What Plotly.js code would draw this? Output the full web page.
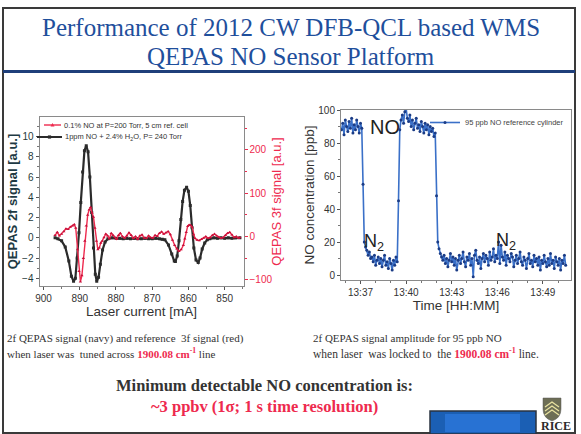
<!DOCTYPE html>
<html>
<head>
<meta charset="utf-8">
<script src="https://cdn.plot.ly/plotly-3.0.1.min.js"></script>
<style>
  html, body { margin: 0; padding: 0; background: #fff; }
  #chart { width: 581px; height: 434px; }
</style>
</head>
<body>
<div id="chart"></div>
<script>
// 2f QEPAS scan, 1 ppm NO + 2.4% H2O at 240 Torr (left axis)
const laserCurrent2f = [896.8, 896.0, 895.0, 894.0, 893.0, 892.3, 891.7, 891.2, 890.7, 890.2,
  889.7, 889.2, 888.7, 888.2, 887.7, 887.2, 886.7, 886.2, 885.7, 885.3,
  884.8, 884.3, 883.7, 883.0, 882.2, 881.0, 880.0, 879.0, 878.0, 877.0,
  876.0, 875.0, 874.0, 873.0, 872.0, 871.0, 870.0, 869.0, 868.0, 867.2,
  866.5, 865.5, 864.6, 863.9, 863.6, 863.1, 862.6, 862.1, 861.6, 861.1,
  860.5, 860.0, 859.5, 859.0, 858.5, 857.9, 857.3, 856.8, 856.2, 855.5,
  854.8, 854.1, 853.0, 852.0, 851.0, 850.0, 849.0, 848.0, 847.0, 845.8];
const qepas2f = [0.0, -0.1, -0.3, -0.9, -2.3, -3.8, -4.3, -4.0, -2.0, 0.5,
  3.5, 6.5, 8.6, 9.1, 8.5, 6.0, 2.5, -1.0, -3.6, -4.3,
  -3.9, -2.6, -1.2, -0.4, -0.1, 0.0, -0.05, -0.05, -0.1, -0.05,
  -0.1, -0.05, -0.1, -0.1, -0.05, -0.1, -0.1, -0.05, -0.1, -0.15,
  -0.2, -0.7, -1.6, -2.3, -2.35, -1.8, -0.3, 1.8, 3.6, 4.7,
  5.0, 4.6, 3.2, 1.0, -1.0, -2.2, -2.45, -2.0, -1.1, -0.5,
  -0.2, -0.1, 0.0, -0.05, 0.0, -0.05, 0.0, -0.05, 0.0, 0.0];

// 3f reference signal, 0.1% NO at 200 Torr in a 5 cm cell (right axis)
const laserCurrent3f = [896.8, 896.2, 895.6, 895.0, 894.4, 893.8, 893.2, 892.6, 892.0, 891.5,
  891.1, 890.6, 890.2, 889.8, 889.4, 889.0, 888.6, 888.2, 887.8, 887.4,
  887.0, 886.6, 886.2, 885.8, 885.4, 885.0, 884.6, 884.2, 883.8, 883.3,
  882.8, 882.3, 881.8, 881.3, 880.8, 880.3, 879.8, 879.3, 878.8, 878.2,
  877.6, 877.0, 876.4, 875.8, 875.2, 874.6, 874.0, 873.4, 872.8, 872.2,
  871.6, 871.0, 870.4, 869.8, 869.2, 868.6, 868.0, 867.4, 866.8, 866.2,
  865.6, 865.0, 864.4, 863.8, 863.2, 862.6, 862.0, 861.4, 861.0, 860.6,
  860.2, 859.8, 859.4, 859.0, 858.6, 858.2, 857.6, 857.0, 856.4, 855.8,
  855.2, 854.6, 854.0, 853.4, 852.8, 852.2, 851.6, 851.0, 850.4, 849.8,
  849.2, 848.6, 848.0, 847.4, 846.8, 846.2, 845.8];
const ref3f = [3, 10, 2, 6, 12, 18, 17, 22, 25, 28,
  20, -30, -80, -104, -90, -50, -10, 25, 50, 62,
  68, 55, 45, 20, -10, -30, -26, -15, -10, -2,
  6, 2, -5, 8, 3, -2, -6, 3, 8, 0,
  -3, 2, 9, 3, -4, 0, -6, 2, 4, -3,
  -4, 2, -2, -3, 3, 1, 8, 11, 6, 9,
  12, 5, -8, -20, -28, -34, -30, -20, -5, 10,
  24, 27, 26, 22, 5, -4, -8, -9, -6, -3,
  0, -4, -2, 3, 6, 2, -1, -4, -2, 3,
  8, 10, 4, -2, 0, -3, -2];
const xTicksCurrent = [900, 890, 880, 870, 860, 850];
const yTicks3f = [-100, 0, 100, 200];

// NO concentration with the laser locked to the line, one reading every 5 s
const recordStart = '2012-01-01T13:35:45Z';
const recordStepSec = 5;
const noConcPpb = [
  88, 92, 85, 94, 90, 87, 93, 89, 95, 86, 91, 88, 94, 90, 86, 92, 89,
  55,
  20, 17, 15, 12, 14, 10, 11, 8, 12, 6, 9, 11, 7, 10, 5, 9, 12, 6, 8, 4, 10, 7, 3, 9, 6, 11, 8,
  45, 88,
  94, 97, 92, 99, 101, 95, 93, 97, 90, 94, 88, 92, 95, 89, 91, 87, 93, 90, 86, 92, 88, 91, 85, 90, 87, 89, 84, 86,
  48,
  20, 16, 13, 11, 9, 12, 7, 10, 5, 9,
  13, 8, 11, 6, 10, 3, 9, 12, 7, 10,
  14, 8, 5, 11, 9, 13, 6, 10, -1, 12,
  15, 9, 7, 11, 4, 10, 13, 8, 12, 10,
  6, 14, 9, 11, 16, 8, 12, 10, 20, 7,
  18, 11, 9, 14, 6, 12, 10, 8, 13, 11,
  5, 9, 12, 7, 10, 14, 8, 6, 11, 9,
  4, 10, 13, 7, 9, 5, 12, 8, 10, 6,
  11, 3, 9, 7, 12, 8, 5, 10, 6, 13,
  7, 9, 4, 11, 8, 6, 10, 3, 9, 7,
  12, 6];

// reading timestamps on the instrument's fixed sampling grid
const t0 = Date.parse(recordStart);
const readingTimes = noConcPpb.map((_, i) =>
  new Date(t0 + i * recordStepSec * 1000).toISOString().replace('T', ' ').slice(0, 19));

// slide geometry helpers (pixels -> paper fraction)
const W = 581, H = 434;
const px = v => v / W;
const py = v => 1 - v / H;

const RED = '#ee2a4e';
const NAVY = '#1f4f9c';
const INK = '#2b2b2b';
const SANS = 'Liberation Sans, Arial, sans-serif';
const SERIF = 'Liberation Serif, Times New Roman, serif';

const traces = [
  {
    x: laserCurrent2f, y: qepas2f, xaxis: 'x', yaxis: 'y',
    type: 'scatter', mode: 'lines+markers', showlegend: false,
    name: '1ppm NO + 2.4% H2O, P= 240 Torr',
    line: { color: INK, width: 2.2 },
    marker: { color: INK, size: 3, symbol: 'square' }
  },
  {
    x: laserCurrent3f, y: ref3f, xaxis: 'x', yaxis: 'y2',
    type: 'scatter', mode: 'lines+markers', showlegend: false,
    name: '0.1% NO at P=200 Torr, 5 cm ref. cell',
    line: { color: RED, width: 1.4 },
    marker: { color: '#c8103a', size: 3, symbol: 'triangle-up' }
  },
  {
    x: readingTimes, y: noConcPpb, xaxis: 'x2', yaxis: 'y3',
    type: 'scatter', mode: 'lines+markers',
    name: '95 ppb NO reference cylinder',
    line: { color: '#3a70c8', width: 1.6 },
    marker: { color: '#1b3c86', size: 3 },
    legend: 'legend2'
  }
];

const axisCommon = {
  showgrid: false, zeroline: false, showline: true, linecolor: '#8a8a8a', linewidth: 1,
  ticks: 'outside', ticklen: 3, tickcolor: '#555', tickfont: { family: SANS, size: 10, color: '#333' }
};

// compact two-entry key for the scan panel
const keyRows = [
  { y: 125, x0: 44, x1: 61, color: RED, mark: 'tri', text: '0.1% NO at P=200 Torr, 5 cm ref. cell' },
  { y: 137, x0: 37, x1: 62, color: INK, mark: 'sq', text: '1ppm NO + 2.4% H<sub>2</sub>O, P= 240 Torr' }
];
const keyShapes = [];
const keyNotes = [];
keyRows.forEach(r => {
  keyShapes.push({ type: 'line', xref: 'paper', yref: 'paper', x0: px(r.x0), x1: px(r.x1), y0: py(r.y), y1: py(r.y),
    line: { color: r.color, width: r.mark === 'sq' ? 2 : 1.4 } });
  const cx = (r.x0 + r.x1) / 2;
  const path = r.mark === 'tri'
    ? `M ${px(cx - 2)},${py(r.y + 1.5)} L ${px(cx + 2)},${py(r.y + 1.5)} L ${px(cx)},${py(r.y - 2)} Z`
    : `M ${px(cx - 1.6)},${py(r.y + 1.6)} L ${px(cx + 1.6)},${py(r.y + 1.6)} L ${px(cx + 1.6)},${py(r.y - 1.6)} L ${px(cx - 1.6)},${py(r.y - 1.6)} Z`;
  keyShapes.push({ type: 'path', xref: 'paper', yref: 'paper', path, fillcolor: r.color, line: { width: 0 } });
  keyNotes.push({ xref: 'paper', yref: 'paper', x: px(r.x1 + 1), y: py(r.y), xanchor: 'left', yanchor: 'middle',
    showarrow: false, text: r.text, font: { family: SANS, size: 7.5, color: '#333' } });
});

const layout = {
  width: W, height: H,
  margin: { l: 0, r: 0, t: 0, b: 0 },
  paper_bgcolor: '#fff', plot_bgcolor: '#fff',
  showlegend: true,
  xaxis: Object.assign({}, axisCommon, {
    domain: [px(39.5), px(243.5)], anchor: 'y',
    range: [901.1, 844.8], tickvals: xTicksCurrent, mirror: true,
    minor: { ticks: 'outside', ticklen: 2, dtick: 5, tickcolor: '#777' },
    title: { text: 'Laser current [mA]', font: { family: SANS, size: 13.5, color: '#333' }, standoff: 2 }
  }),
  yaxis: Object.assign({}, axisCommon, {
    domain: [py(286), py(117)], anchor: 'x',
    range: [-4.76, 11.94], tick0: 0, dtick: 2,
    tickfont: { family: SANS, size: 10, color: '#263a3a' },
    minor: { ticks: 'outside', ticklen: 2, dtick: 1, tickcolor: '#777' },
    title: { text: '<b>QEPAS 2f signal [a.u.]</b>', font: { family: SANS, size: 13, color: '#1e3a44' }, standoff: 1 }
  }),
  yaxis2: Object.assign({}, axisCommon, {
    overlaying: 'y', side: 'right', anchor: 'x',
    range: [-114, 276], tickvals: yTicks3f, tickcolor: RED,
    tickfont: { family: SANS, size: 10, color: RED },
    minor: { ticks: 'outside', ticklen: 2, dtick: 50, tickcolor: RED },
    title: { text: 'QEPAS 3f signal [a.u.]', font: { family: SANS, size: 13, color: RED }, standoff: 0 }
  }),
  xaxis2: Object.assign({}, axisCommon, {
    domain: [px(341), px(571)], anchor: 'y3', type: 'date',
    range: ['2012-01-01 13:35:43', '2012-01-01 13:50:51'],
    tick0: '2012-01-01 13:37:00', dtick: 180000, tickformat: '%H:%M', mirror: true,
    minor: { ticks: 'outside', ticklen: 2, dtick: 60000, tickcolor: '#777' },
    title: { text: 'Time [HH:MM]', font: { family: SANS, size: 13.5, color: '#333' }, standoff: 2 }
  }),
  yaxis3: Object.assign({}, axisCommon, {
    domain: [py(280), py(110)], anchor: 'x2',
    range: [-3, 100], tick0: 0, dtick: 20, mirror: true,
    minor: { ticks: 'outside', ticklen: 2, dtick: 10, tickcolor: '#777' },
    title: { text: 'NO concentration [ppb]', font: { family: SANS, size: 13.5, color: '#333' }, standoff: 0 }
  }),
  legend2: {
    x: px(425), y: py(108), xanchor: 'left', yanchor: 'top',
    bgcolor: 'rgba(0,0,0,0)', itemwidth: 30,
    font: { family: SANS, size: 7.5, color: '#444' }
  },
  shapes: [
    // slide frame
    { type: 'rect', xref: 'paper', yref: 'paper', x0: px(3), x1: px(575), y0: py(433), y1: py(8),
      line: { color: '#3a3a3a', width: 2 }, fillcolor: 'rgba(0,0,0,0)', layer: 'below' },
    // rule under the slide title
    { type: 'line', xref: 'paper', yref: 'paper', x0: px(3), x1: px(575), y0: py(71.5), y1: py(71.5),
      line: { color: '#1f3f7a', width: 3 } },
    // footer banner
    { type: 'rect', xref: 'paper', yref: 'paper', x0: px(430), x1: px(536), y0: py(434), y1: py(411),
      line: { color: '#2a3340', width: 1.5 }, fillcolor: '#1b5fb4' },
    { type: 'rect', xref: 'paper', yref: 'paper', x0: px(445), x1: px(520), y0: py(432), y1: py(414),
      line: { width: 0 }, fillcolor: '#2d7be0', opacity: 0.7 },
    // shield
    { type: 'path', xref: 'paper', yref: 'paper',
      path: `M ${px(543)},${py(398)} L ${px(561)},${py(398)} L ${px(561)},${py(409)} Q ${px(561)},${py(418)} ${px(552)},${py(421)} Q ${px(543)},${py(418)} ${px(543)},${py(409)} Z`,
      fillcolor: '#6d6e55', line: { color: '#555', width: 0.5 } },
    { type: 'path', xref: 'paper', yref: 'paper',
      path: `M ${px(545)},${py(407)} L ${px(552)},${py(402)} L ${px(559)},${py(407)} M ${px(545)},${py(411)} L ${px(552)},${py(406)} L ${px(559)},${py(411)} M ${px(545)},${py(415)} L ${px(552)},${py(410)} L ${px(559)},${py(415)}`,
      line: { color: '#e8e2a0', width: 1.3 } }
  ].concat(keyShapes),
  annotations: [
    { xref: 'paper', yref: 'paper', x: px(291), y: py(27), xanchor: 'center', yanchor: 'middle', showarrow: false,
      text: 'Performance of 2012 CW DFB-QCL based WMS', font: { family: SERIF, size: 25, color: NAVY } },
    { xref: 'paper', yref: 'paper', x: px(291), y: py(56), xanchor: 'center', yanchor: 'middle', showarrow: false,
      text: 'QEPAS NO Sensor Platform', font: { family: SERIF, size: 25, color: NAVY } },

    // labels on the concentration record
    { xref: 'x2', yref: 'y3', x: '2012-01-01 13:38:36', y: 89.5, showarrow: false,
      text: 'NO', font: { family: SANS, size: 20, color: '#222' } },
    { xref: 'x2', yref: 'y3', x: '2012-01-01 13:37:52', y: 19.5, showarrow: false,
      text: 'N<sub>2</sub>', font: { family: SANS, size: 18, color: '#222' } },
    { xref: 'x2', yref: 'y3', x: '2012-01-01 13:46:36', y: 20.5, showarrow: false,
      text: 'N<sub>2</sub>', font: { family: SANS, size: 18, color: '#222' } },

    // captions
    { xref: 'paper', yref: 'paper', x: px(5), y: py(338), xanchor: 'left', yanchor: 'middle', showarrow: false, align: 'left',
      text: '2f QEPAS signal (navy) and reference&nbsp; 3f signal (red)', font: { family: SERIF, size: 11, color: '#333' } },
    { xref: 'paper', yref: 'paper', x: px(5), y: py(353), xanchor: 'left', yanchor: 'middle', showarrow: false, align: 'left',
      text: `when laser was&nbsp; tuned across <b><span style="color:${RED}">1900.08 cm<sup>-1</sup></span></b> line`,
      font: { family: SERIF, size: 11, color: '#333' } },
    { xref: 'paper', yref: 'paper', x: px(311), y: py(338), xanchor: 'left', yanchor: 'middle', showarrow: false, align: 'left',
      text: '2f QEPAS signal amplitude for 95 ppb NO', font: { family: SERIF, size: 11, color: '#333' } },
    { xref: 'paper', yref: 'paper', x: px(311), y: py(353), xanchor: 'left', yanchor: 'middle', showarrow: false, align: 'left',
      text: `when laser&nbsp; was locked to&nbsp; the <b><span style="color:${RED}">1900.08 cm<sup>-1</sup></span></b> line.`,
      font: { family: SERIF, size: 11.5, color: '#333' } },

    { xref: 'paper', yref: 'paper', x: px(264), y: py(385), xanchor: 'center', yanchor: 'middle', showarrow: false,
      text: '<b>Minimum detectable NO concentration is:</b>', font: { family: SERIF, size: 16.5, color: '#333' } },
    { xref: 'paper', yref: 'paper', x: px(264), y: py(406), xanchor: 'center', yanchor: 'middle', showarrow: false,
      text: '<b>~3 ppbv (1σ; 1 s time resolution)</b>', font: { family: SERIF, size: 16.5, color: RED } },

    { xref: 'paper', yref: 'paper', x: px(556), y: py(426), xanchor: 'center', yanchor: 'middle', showarrow: false,
      text: '<b>RICE</b>', font: { family: SERIF, size: 12, color: '#2a2a2a' } }
  ].concat(keyNotes)
};

Plotly.newPlot('chart', traces, layout, { displayModeBar: false, staticPlot: true });
</script>
</body>
</html>
